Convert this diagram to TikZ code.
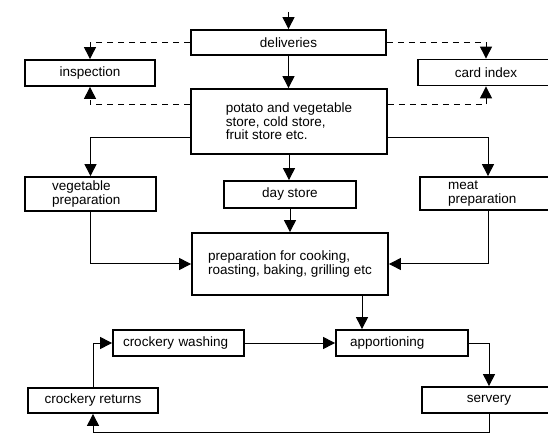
\documentclass[tikz,border=0pt]{standalone}
\usepackage{fontspec}
\setmainfont{Liberation Sans}
\usetikzlibrary{arrows.meta}
\tikzset{
  box/.style={draw, line width=1.8pt, inner sep=0pt, font=\fontsize{13.5}{13.5}\selectfont},
  conn/.style={line width=1pt, -{Triangle[length=12pt,width=12pt]}},
  dconn/.style={conn, dash pattern=on 6pt off 5pt},
}
\begin{document}
\begin{tikzpicture}[x=1pt,y=-1pt]
\useasboundingbox (0,0) rectangle (548,435);
\clip (0,0) rectangle (548,435);
% boxes
\node[box, minimum width=195pt, minimum height=25pt] (del) at (288.5,42.5) {deliveries};
\node[box, minimum width=130pt, minimum height=26pt] (insp) at (90,73) {inspection};
\node[box, minimum width=136pt, minimum height=26pt] (card) at (486,72.5) {card index};
\node[box, minimum width=196pt, minimum height=65pt, align=left] (store) at (289,121.5)
  {potato and vegetable\\ store, cold store,\\ fruit store etc.};
\node[box, text width=77pt, inner xsep=27pt, minimum height=34pt, align=left] (veg) at (90.5,194)
  {vegetable\\ preparation};
\node[box, minimum width=132pt, minimum height=27pt] (day) at (290,194.5) {day store};
\node[box, text width=80pt, inner xsep=28pt, minimum height=33pt, align=left] (meat) at (488,193.5)
  {meat\\ preparation};
\node[box, minimum width=196pt, minimum height=62pt, align=left] (prep) at (290,264)
  {preparation for cooking,\\ roasting, baking, grilling etc};
\node[box, text width=111pt, inner xsep=10pt, minimum height=26pt, align=left] (wash) at (178.5,343)
  {crockery washing};
\node[box, text width=104pt, inner xsep=14pt, minimum height=26pt, align=left] (app) at (402,343)
  {apportioning};
\node[box, minimum width=134pt, minimum height=26pt] (serv) at (489,400) {servery};
\node[box, minimum width=130pt, minimum height=25pt] (ret) at (93,400.5) {crockery returns};
\coordinate (in) at (288.5,12);
% connectors
\draw[conn] (in) -- (del.north);
\draw[conn] (del.south) -- (del.south |- store.north);
\draw[dconn] (del.west) -| (insp.north);
\draw[dconn] (del.east) -| (card.north);
\draw[dconn] ([yshift=16.5pt]store.west) -| (insp.south);
\draw[dconn] ([yshift=16.5pt]store.east) -| (card.south);
\draw[conn] ([yshift=-16.5pt]store.west) -| (veg.north);
\draw[conn] ([yshift=-16.5pt]store.east) -| (meat.north);
\draw[conn] (store.south) -- (store.south |- day.north);
\draw[conn] (day.south) -- (day.south |- prep.north);
\draw[conn] (veg.south) |- (prep.west);
\draw[conn] (meat.south) |- (prep.east);
\draw[conn] ([xshift=72pt]prep.south) -- ([xshift=72pt]prep.south |- app.north);
\draw[conn] (wash.east) -- (app.west);
\draw[conn] (app.east) -| (serv.north);
\draw[conn] (serv.south) |- ([yshift=-19pt]ret.south) -- (ret.south);
\draw[conn] (ret.north) |- (wash.west);
\end{tikzpicture}
\end{document}
